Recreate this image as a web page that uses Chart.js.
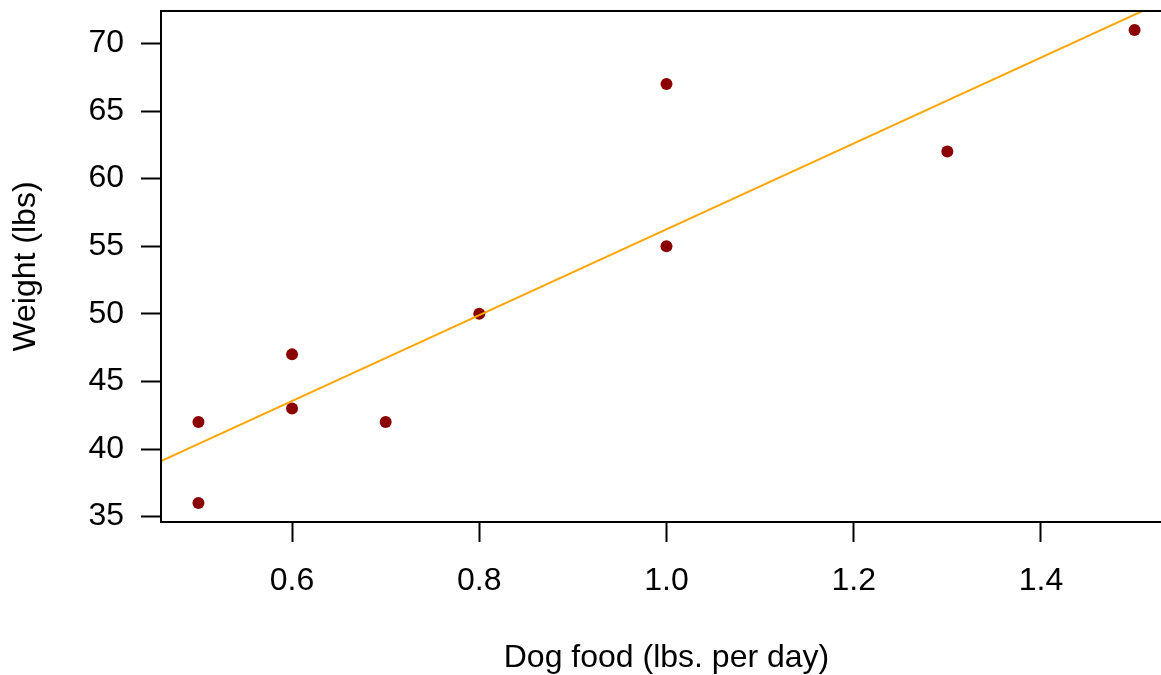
<!DOCTYPE html>
<html>
<head>
<meta charset="utf-8">
<script src="https://cdn.jsdelivr.net/npm/chart.js@4"></script>
<style>
  html, body { margin: 0; padding: 0; overflow: hidden; background: #ffffff; }
  #wrap { width: 1172px; height: 675px; }
</style>
</head>
<body>
<div id="wrap"><canvas id="c" width="1172" height="675"></canvas></div>
<script>
// Data
const dogFood = [0.5, 0.5, 0.6, 0.6, 0.7, 0.8, 1.0, 1.0, 1.3, 1.5];
const weight  = [42, 36, 47, 43, 42, 50, 67, 55, 62, 71];
// Fitted line endpoints (at the axis limits)
const fitLineX = [0.46, 1.54];
const fitLineY = [39.1, 73.4];
// Axis ticks
const xTicks = [0.6, 0.8, 1.0, 1.2, 1.4];
const xTickLabels = ["0.6", "0.8", "1.0", "1.2", "1.4"];
const yTicks = [35, 40, 45, 50, 55, 60, 65, 70];
const yTickLabels = ["35", "40", "45", "50", "55", "60", "65", "70"];
const xLimits = [0.46, 1.54];
const yLimits = [34.6, 72.4];
const xTitle = "Dog food (lbs. per day)";
const yTitle = "Weight (lbs)";

const FONT = "'Liberation Sans', Arial, Helvetica, sans-serif";
const FS = 32;

const pts = dogFood.map((x, i) => ({ x: x, y: weight[i] }));
const linePts = fitLineX.map((x, i) => ({ x: x, y: fitLineY[i] }));

const boxPlugin = {
  id: 'box',
  afterDraw(chart) {
    const a = chart.chartArea;
    const ctx = chart.ctx;
    ctx.save();
    ctx.strokeStyle = '#000';
    ctx.lineWidth = 2;
    ctx.strokeRect(a.left, a.top, a.right - a.left, a.bottom - a.top);
    ctx.restore();
  }
};

function zeroPad(s) {
  s.paddingTop = 0; s.paddingBottom = 0; s.paddingLeft = 0; s.paddingRight = 0;
}

new Chart(document.getElementById('c'), {
  type: 'scatter',
  data: {
    datasets: [
      {
        type: 'line',
        data: linePts,
        borderColor: '#FFA500',
        borderWidth: 2,
        pointRadius: 0,
        fill: false,
        tension: 0
      },
      {
        type: 'scatter',
        data: pts,
        backgroundColor: '#8B0000',
        borderColor: '#8B0000',
        borderWidth: 0,
        pointRadius: 6,
        pointHoverRadius: 6
      }
    ]
  },
  options: {
    responsive: false,
    animation: false,
    events: [],
    layout: { autoPadding: false, padding: { top: 11, left: 0, right: 0, bottom: 0 } },
    plugins: { legend: { display: false }, tooltip: { enabled: false } },
    scales: {
      x: {
        type: 'linear',
        min: xLimits[0],
        max: xLimits[1],
        afterBuildTicks: (s) => { s.ticks = xTicks.map(v => ({ value: v })); },
        afterFit: (s) => { s.height = 153; zeroPad(s); },
        ticks: {
          callback: (v, i) => xTickLabels[i],
          color: '#000',
          font: { family: FONT, size: FS, lineHeight: 1.2 },
          padding: 20,
          maxRotation: 0,
          autoSkip: false
        },
        grid: {
          drawOnChartArea: false,
          drawTicks: true,
          tickLength: 20,
          tickColor: '#000',
          tickWidth: 2
        },
        border: { display: false },
        title: {
          display: true,
          text: xTitle,
          color: '#000',
          font: { family: FONT, size: FS, lineHeight: 1.08 },
          padding: { top: 0, bottom: 0 }
        }
      },
      y: {
        type: 'linear',
        min: yLimits[0],
        max: yLimits[1],
        afterBuildTicks: (s) => { s.ticks = yTicks.map(v => ({ value: v })); },
        afterFit: (s) => { s.width = 161; zeroPad(s); },
        ticks: {
          callback: (v, i) => yTickLabels[i],
          color: '#000',
          font: { family: FONT, size: FS, lineHeight: 1.2 },
          padding: 17,
          autoSkip: false
        },
        grid: {
          drawOnChartArea: false,
          drawTicks: true,
          tickLength: 20,
          tickColor: '#000',
          tickWidth: 2
        },
        border: { display: false },
        title: {
          display: true,
          text: yTitle,
          color: '#000',
          font: { family: FONT, size: FS, lineHeight: 1.08 },
          padding: { top: 9, bottom: 0 }
        }
      }
    }
  },
  plugins: [boxPlugin]
});
</script>
</body>
</html>
